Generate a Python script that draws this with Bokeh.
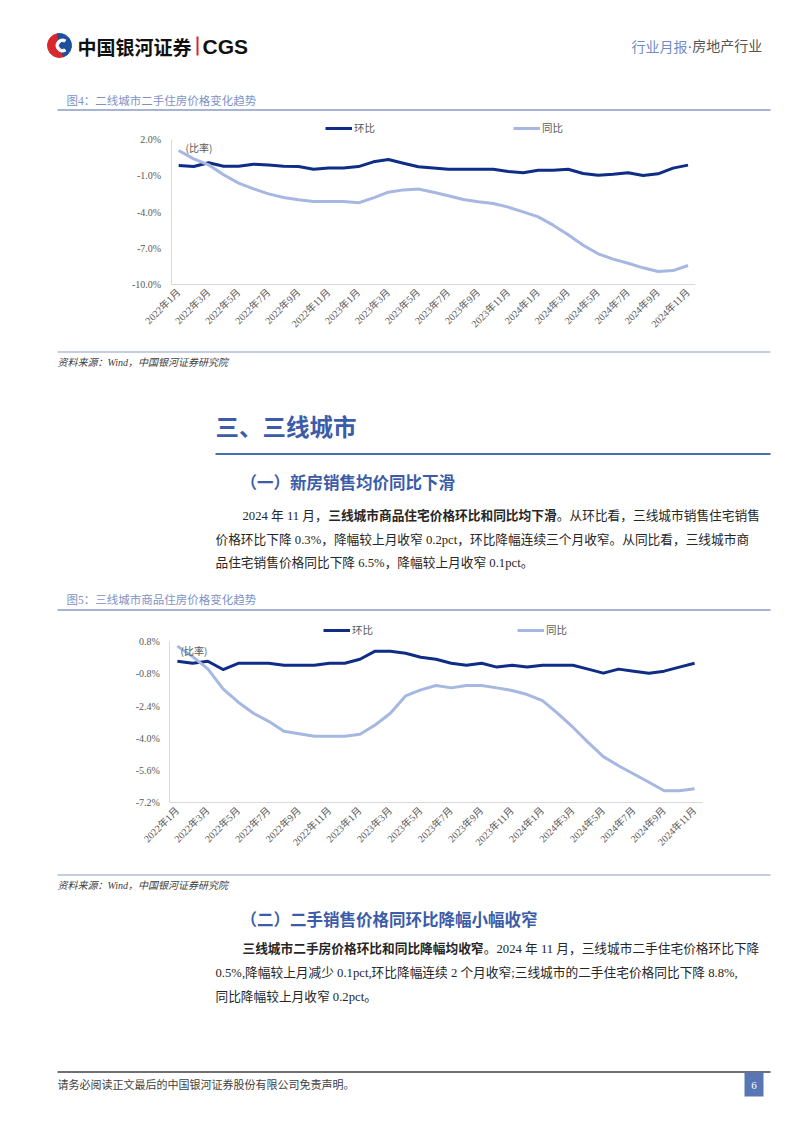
import math
from bokeh.plotting import figure
from bokeh.models import Range1d, FixedTicker, PrintfTickFormatter, Legend, LegendItem, Label
from bokeh.layouts import column
from bokeh.embed import file_html
from bokeh.resources import INLINE
from bokeh.core.properties import value

# ---------------- data ----------------
months = ["2022年1月", "2022年2月", "2022年3月", "2022年4月", "2022年5月", "2022年6月",
          "2022年7月", "2022年8月", "2022年9月", "2022年10月", "2022年11月", "2022年12月",
          "2023年1月", "2023年2月", "2023年3月", "2023年4月", "2023年5月", "2023年6月",
          "2023年7月", "2023年8月", "2023年9月", "2023年10月", "2023年11月", "2023年12月",
          "2024年1月", "2024年2月", "2024年3月", "2024年4月", "2024年5月", "2024年6月",
          "2024年7月", "2024年8月", "2024年9月", "2024年10月", "2024年11月"]
series_names = ["环比", "同比"]

# 图4 二线城市二手住房价格 (%)
hb1 = [-0.15, -0.24, 0.07, -0.21, -0.21, -0.04, -0.12, -0.21, -0.24, -0.46, -0.35, -0.35,
       -0.24, 0.15, 0.34, 0.04, -0.26, -0.35, -0.46, -0.46, -0.46, -0.46, -0.65, -0.76,
       -0.54, -0.54, -0.46, -0.81, -0.95, -0.87, -0.76, -0.98, -0.84, -0.37, -0.12]
tb1 = [1.09, 0.40, -0.10, -0.92, -1.61, -2.08, -2.50, -2.80, -2.99, -3.13, -3.13, -3.13,
       -3.24, -2.83, -2.36, -2.17, -2.09, -2.36, -2.66, -2.97, -3.16, -3.30, -3.60, -3.99,
       -4.40, -5.09, -5.89, -6.75, -7.46, -7.90, -8.24, -8.62, -8.93, -8.85, -8.43]
yticks1 = [-10.0, -7.0, -4.0, -1.0, 2.0]

# 图5 三线城市商品住房价格 (%)
hb2 = [-0.18, -0.28, -0.18, -0.59, -0.28, -0.28, -0.28, -0.38, -0.38, -0.38, -0.28, -0.28,
       -0.08, 0.32, 0.32, 0.22, 0.02, -0.08, -0.28, -0.38, -0.28, -0.47, -0.38, -0.47,
       -0.38, -0.38, -0.38, -0.57, -0.77, -0.57, -0.67, -0.77, -0.67, -0.47, -0.28]
tb2 = [0.57, 0.05, -0.56, -1.55, -2.21, -2.76, -3.16, -3.65, -3.78, -3.90, -3.90, -3.90,
       -3.80, -3.34, -2.76, -1.90, -1.60, -1.38, -1.50, -1.38, -1.38, -1.50, -1.63, -1.83,
       -2.13, -2.76, -3.45, -4.20, -4.91, -5.36, -5.77, -6.18, -6.60, -6.60, -6.50]
yticks2 = [-7.2, -5.6, -4.0, -2.4, -0.8, 0.8]

# ---------------- styles ----------------
SERIF = "Liberation Serif, Noto Sans CJK SC"
SANS = "Noto Sans CJK SC"
DARK = "#0f2d87"
LIGHT = "#a6b8e2"
GRAY = "#595959"
BLUE_HEAD = "#3b5ca8"
TITLE_BLUE = "#7d93c6"
RULE = "#8a9bc4"
TEXT = "#262626"
BODY = 12.7
W = 802


def page_fig(y0, y1):
    p = figure(width=W, height=int(y1 - y0), x_range=Range1d(0, W), y_range=Range1d(y1, y0),
               output_backend="svg", toolbar_location=None, min_border=0,
               x_axis_location=None, y_axis_location=None)
    p.outline_line_color = None
    p.grid.visible = False
    return p


def txt(p, x, y, s, size, color, font=SERIF, style="normal", align="left"):
    p.text(x=[x], y=[y], text=[s], text_font=value(font), text_font_size=value(f"{size}px"),
           text_color=color, text_font_style=style, text_align=align, text_baseline="middle")


def em(s):
    w = 0.0
    for ch in s:
        if ord(ch) >= 0x2e80 or ch in "，。；：（）":
            w += 1.0
        elif ch in " .,":
            w += 0.25
        elif ch in ";:":
            w += 0.278
        elif ch == "%":
            w += 0.833
        elif ch == "c":
            w += 0.444
        elif ch == "t":
            w += 0.278
        else:
            w += 0.5
    return w


def runs(p, x, y, parts, size, color=TEXT):
    for s, bold in parts:
        txt(p, x, y, s, size, color, style="bold" if bold else "normal")
        x += em(s) * size


def rule(p, x0, x1, y, color, width):
    p.segment(x0=[x0], y0=[y], x1=[x1], y1=[y], line_color=color, line_width=width)


def chart_fig(fig_top, fig_bottom, plot_left, plot_right, top_tick_y, plot_bottom,
              yticks, hb, tb, legend_pts, ratio_pt):
    n = len(months)
    ppm = (plot_right - plot_left) / n
    ppu = (plot_bottom - top_tick_y) / (yticks[-1] - yticks[0])
    x0 = -0.5 - plot_left / ppm
    x1 = n - 0.5 + (W - plot_right) / ppm
    y_lo = yticks[0] - (fig_bottom - plot_bottom) / ppu
    y_hi = yticks[-1] + (top_tick_y - fig_top) / ppu
    fig_h = int(round(fig_bottom - fig_top))
    p = figure(width=W, height=fig_h, x_range=Range1d(x0, x1), y_range=Range1d(y_lo, y_hi),
               output_backend="svg", toolbar_location=None, min_border=0)
    p.outline_line_color = None
    p.grid.visible = False
    idx = list(range(n))
    r_hb = p.line(idx, hb, line_color=DARK, line_width=3, line_join="round")
    r_tb = p.line(idx, tb, line_color=LIGHT, line_width=3, line_join="round")

    p.yaxis.ticker = FixedTicker(ticks=yticks)
    p.yaxis.formatter = PrintfTickFormatter(format="%.1f%%")
    p.yaxis.bounds = (yticks[0], yticks[-1])
    p.yaxis.fixed_location = -0.5
    p.xaxis.ticker = FixedTicker(ticks=idx[::2])
    p.xaxis.major_label_overrides = {i: months[i] for i in idx[::2]}
    p.xaxis.major_label_orientation = math.pi / 4
    p.xaxis.bounds = (-0.5, n - 0.5)
    p.xaxis.fixed_location = yticks[0]
    for ax in (p.xaxis[0], p.yaxis[0]):
        ax.axis_line_color = "#d9d9d9"
        ax.axis_line_width = 1
        ax.major_tick_line_color = None
        ax.minor_tick_line_color = None
        ax.major_tick_out = 0
        ax.major_tick_in = 0
        ax.major_label_text_font = SERIF
        ax.major_label_text_font_size = "10px"
        ax.major_label_text_color = GRAY
    p.yaxis.major_label_standoff = 10
    p.xaxis.major_label_standoff = 6

    # legends: screen px from the frame's bottom-left (frame = whole figure)
    for r, name, (lx, ly) in zip([r_hb, r_tb], series_names, legend_pts):
        lg = Legend(items=[LegendItem(label=name, renderers=[r])],
                    location=(lx, fig_bottom - ly - 7),
                    orientation="horizontal", padding=0, margin=0, spacing=0,
                    label_standoff=2, glyph_width=27, glyph_height=12, label_height=12,
                    border_line_color=None, background_fill_alpha=0,
                    label_text_font=SANS, label_text_font_size="10.5px",
                    label_text_color=GRAY)
        p.add_layout(lg)

    rx, ry = ratio_pt
    p.add_layout(Label(x=rx, y=fig_bottom - ry, x_units="screen", y_units="screen",
                       text="(比率)", text_font=SANS, text_font_size="10px",
                       text_color=GRAY, text_baseline="middle"))
    return p


# ---------------- header ----------------
f0 = page_fig(0, 116)
f0.wedge(x=[59], y=[45], radius=12, start_angle=math.radians(100), end_angle=math.radians(290),
         color="#d7282f")
f0.wedge(x=[59], y=[45], radius=12, start_angle=math.radians(290), end_angle=math.radians(100),
         color="#1d4f9c")
f0.annular_wedge(x=[62], y=[45], inner_radius=4, outer_radius=6.5,
                 start_angle=math.radians(60), end_angle=math.radians(300), color="white")
txt(f0, 77, 45.5, "中国银河证券", 19, "#111111", font=SANS, style="bold")
f0.segment(x0=[197], y0=[36], x1=[197], y1=[55], line_color="#d7282f", line_width=2)
txt(f0, 202, 46, "CGS", 21, "#111111", font="Liberation Sans", style="bold")
txt(f0, 631, 45, "行业月报", 14, "#6f8cc8", font=SANS)
txt(f0, 687, 45, "·房地产行业", 14, "#555555", font="Liberation Sans, Noto Sans CJK SC")
txt(f0, 66, 100, "图4：二线城市二手住房价格变化趋势", 11.5, TITLE_BLUE)
rule(f0, 57, 770, 109.5, RULE, 1.5)

# ---------------- chart 1 ----------------
c1 = chart_fig(116, 346, 170.7, 695, 139, 284, yticks1, hb1, tb1,
               legend_pts=[(325, 128.3), (513, 128.3)], ratio_pt=(185, 147.3))

# ---------------- middle text ----------------
f2 = page_fig(346, 616)
rule(f2, 57, 770, 351.5, RULE, 1.2)
txt(f2, 57, 362, "资料来源：Wind，中国银河证券研究院", 10, "#404040", style="italic")
txt(f2, 215, 425, "三、三线城市", 23.5, BLUE_HEAD, font=SANS, style="bold")
rule(f2, 215, 770, 453.5, "#4a6cb3", 2)
txt(f2, 240, 481, "（一）新房销售均价同比下滑", 16.5, BLUE_HEAD, font=SANS, style="bold")
runs(f2, 242, 515, [("2024 年 11 月，", False), ("三线城市商品住宅价格环比和同比均下滑", True),
                    ("。从环比看，三线城市销售住宅销售", False)], BODY)
runs(f2, 215, 539, [("价格环比下降 0.3%，降幅较上月收窄 0.2pct，环比降幅连续三个月收窄。从同比看，三线城市商", False)], BODY)
runs(f2, 215, 562, [("品住宅销售价格同比下降 6.5%，降幅较上月收窄 0.1pct。", False)], BODY)
txt(f2, 66, 599, "图5：三线城市商品住房价格变化趋势", 11.5, TITLE_BLUE)
rule(f2, 57, 770, 609.5, RULE, 1.5)

# ---------------- chart 2 ----------------
c2 = chart_fig(616, 868, 169.3, 701.7, 641, 802.3, yticks2, hb2, tb2,
               legend_pts=[(323, 630), (517, 630)], ratio_pt=(180, 650))

# ---------------- bottom text ----------------
f4 = page_fig(868, 1130)
rule(f4, 57, 770, 874.5, RULE, 1.2)
txt(f4, 57, 885, "资料来源：Wind，中国银河证券研究院", 10, "#404040", style="italic")
txt(f4, 240, 918, "（二）二手销售价格同环比降幅小幅收窄", 16.5, BLUE_HEAD, font=SANS, style="bold")
runs(f4, 242, 948, [("三线城市二手房价格环比和同比降幅均收窄", True),
                    ("。2024 年 11 月，三线城市二手住宅价格环比下降", False)], BODY)
runs(f4, 215, 972, [("0.5%,降幅较上月减少 0.1pct,环比降幅连续 2 个月收窄;三线城市的二手住宅价格同比下降 8.8%,", False)], BODY)
runs(f4, 215, 996, [("同比降幅较上月收窄 0.2pct。", False)], BODY)
rule(f4, 57, 770, 1071.5, "#404040", 1.5)
txt(f4, 57, 1084, "请务必阅读正文最后的中国银河证券股份有限公司免责声明。", 11, "#404040")
f4.quad(left=[744], right=[763], top=[1072], bottom=[1096], fill_color="#5876b5", line_color=None)
txt(f4, 753.5, 1084.5, "6", 11, "white", align="center")

layout = column(f0, c1, f2, c2, f4, spacing=0)
open("out.html", "w").write(file_html(layout, INLINE))
